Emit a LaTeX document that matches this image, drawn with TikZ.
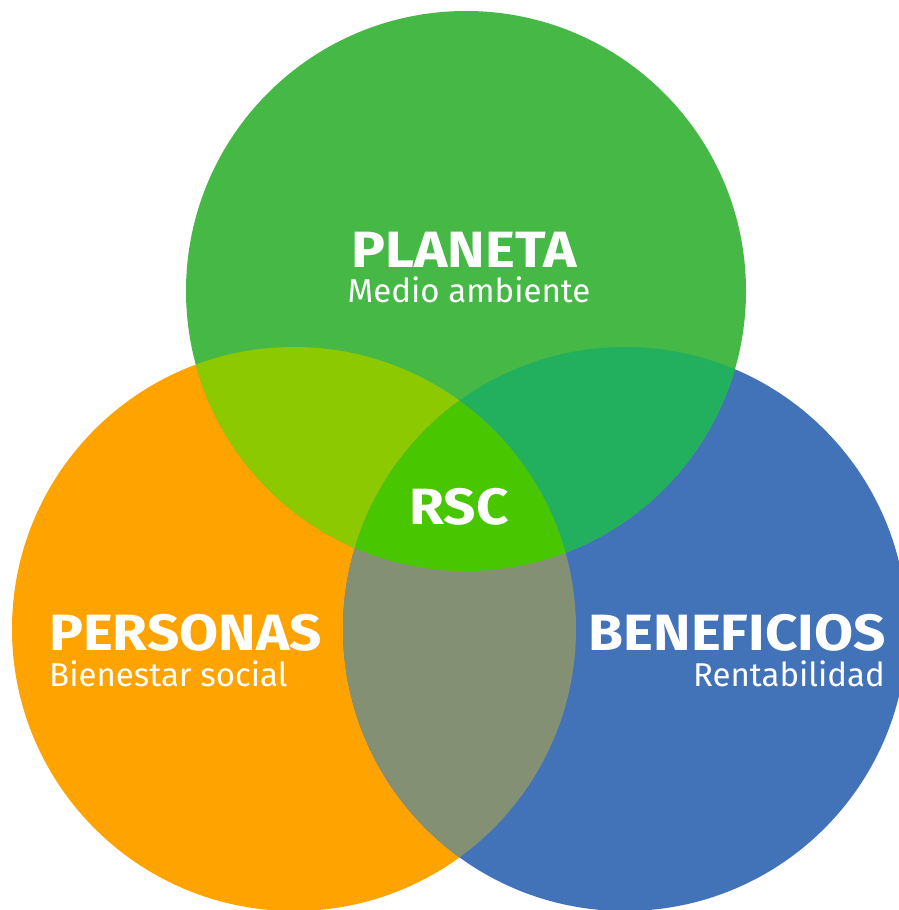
\documentclass[tikz,border=0pt]{standalone}
\usepackage{fontspec}
\setmainfont{Fira Sans}
\definecolor{cgreen}{RGB}{70,184,70}
\definecolor{corange}{RGB}{255,163,0}
\definecolor{cblue}{RGB}{66,114,184}
\definecolor{cgo}{RGB}{141,201,0}
\definecolor{cgb}{RGB}{34,176,94}
\definecolor{cob}{RGB}{132,144,115}
\definecolor{cgob}{RGB}{72,198,0}
\begin{document}
\begin{tikzpicture}[x=1pt,y=-1pt,
  title/.style={text=white,font=\fontsize{51}{51}\selectfont\bfseries,inner sep=0pt,xscale=1.11},
  subtitle/.style={text=white,font=\fontsize{33}{33}\selectfont\mdseries,inner sep=0pt}]
\useasboundingbox (0,0) rectangle (899,910);
\fill[white] (0,0) rectangle (899,910);
\def\cG{(466,291) circle[radius=280pt]}
\def\cO{(294,629) circle[radius=282pt]}
\def\cB{(625,629) circle[radius=282pt]}
\fill[corange] \cO;
\fill[cblue] \cB;
\fill[cgreen] \cG;
\begin{scope}\clip \cG; \fill[cgo] \cO; \fill[cgb] \cB; \end{scope}
\begin{scope}\clip \cO; \fill[cob] \cB; \end{scope}
\begin{scope}\clip \cG; \clip \cO; \fill[cgob] \cB; \end{scope}
\node[title,anchor=base] (planeta) at (464,267) {PLANETA};
\node[subtitle,anchor=base] (medio) at (469,302) {Medio ambiente};
\node[title,anchor=base] (rsc) at (459,524) {RSC};
\node[title,anchor=base west] (personas) at (49,650) {PERSONAS};
\node[subtitle,anchor=base west] (bienestar) at (49,686) {Bienestar social};
\node[title,anchor=base east] (beneficios) at (886,650) {BENEFICIOS};
\node[subtitle,anchor=base east] (rentab) at (885,686) {Rentabilidad};
\end{tikzpicture}
\end{document}
